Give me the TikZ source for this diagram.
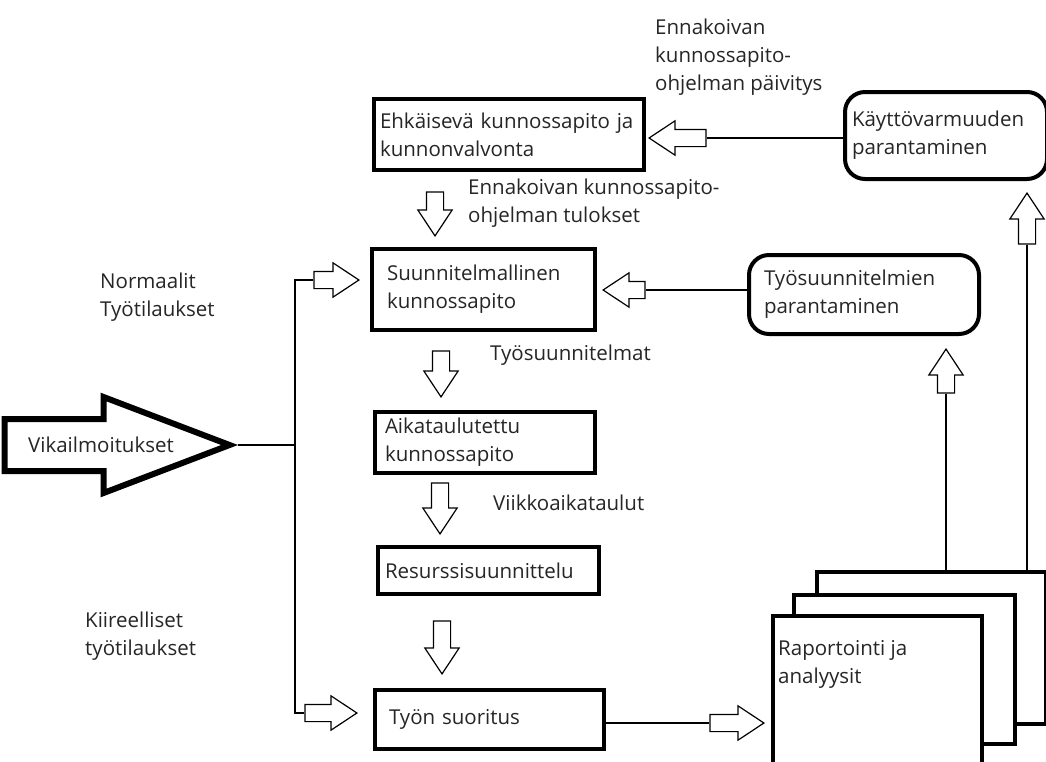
\documentclass[tikz,border=0pt]{standalone}
\usepackage{fontspec}
\setmainfont{Open Sans}
\usetikzlibrary{shapes.arrows}

\tikzset{
  box/.style={draw, line width=4pt, align=left, anchor=north west, inner ysep=0pt},
  roundbox/.style={box, rounded corners=20pt},
  flow/.style={draw, fill=white, single arrow, single arrow head extend=8.5pt,
    single arrow tip angle=67, inner xsep=0pt, inner ysep=8pt, line width=1.2pt, anchor=tip},
  lbl/.style={align=left, anchor=west, inner sep=0pt},
  link/.style={line width=1.2pt}
}

\begin{document}
\begin{tikzpicture}[x=1pt, y=-1pt, font=\fontsize{20.5pt}{28pt}\selectfont, text=black!85]
        \clip (0,0) rectangle (1046,761);
        \fill[white] (0,0) rectangle (1046,761);
        % main column
        \node[box, inner xsep=6pt, text width=258pt, minimum width=270pt, minimum height=71pt] (ehk) at (372,97)
            {Ehkäisevä kunnossapito ja\\kunnonvalvonta};
        \node[box, inner xsep=15pt, text width=193pt, minimum width=223pt, minimum height=81pt] (suunn) at (370,247)
            {Suunnitelmallinen\\kunnossapito};
        \node[box, inner xsep=10pt, text width=200pt, minimum width=220pt, minimum height=61pt] (aika) at (373,410)
            {Aikataulutettu\\kunnossapito};
        \node[box, inner xsep=7pt, text width=207pt, minimum width=221pt, minimum height=47pt] (res) at (376,545)
            {Resurssisuunnittelu};
        \node[box, inner xsep=14pt, text width=201pt, minimum width=229pt, minimum height=59pt] (tyon) at (373,688)
            {Työn suoritus};
        % improvement boxes
        \node[roundbox, inner xsep=7pt, text width=188pt, minimum width=202pt, minimum height=87pt] (kay) at (843,90)
            {Käyttövarmuuden\\parantaminen};
        \node[roundbox, inner xsep=15pt, text width=200pt, minimum width=230pt, minimum height=79pt] (tyo) at (747,253)
            {Työsuunnitelmien\\parantaminen};
        % report stack
        \node[box, fill=white, minimum width=229pt, minimum height=152pt] (rapback) at (815,570) {};
        \node[box, fill=white, minimum width=221pt, minimum height=149pt] (rapmid) at (792,593) {};
        \node[box, fill=white, minimum width=209pt, minimum height=200pt] (rap) at (771,614) {};
        \node[lbl] (raptext) at (778,664) {Raportointi ja\\analyysit};

        % incoming reports
        \node[flow, single arrow head extend=22pt, single arrow tip angle=41.7, inner ysep=23pt,
            minimum height=225pt, line width=6pt] (vik) at (238,445) {};
        \node[lbl] (viktext) at (28,445) {Vikailmoitukset};
        \coordinate (split) at (295,445);
        \node[flow, minimum height=45pt] (a10) at (360,280) {};
        \node[flow, minimum height=52pt] (a11) at (358,713) {};
        \draw[link] (vik.tip) -- (split);
        \draw[link] (a10.tail) -| (split) |- (a11.tail);

        % flow arrows
        \node[flow, rotate=-90, minimum height=44pt] (a2) at (435,237) {};
        \node[flow, rotate=-90, minimum height=46pt] (a4) at (441,398) {};
        \node[flow, rotate=-90, minimum height=51pt] (a5) at (440,535) {};
        \node[flow, rotate=-90, minimum height=53pt] (a6) at (442,675) {};
        \node[flow, minimum height=54pt] (a7) at (765,723) {};
        \draw[link] (a7.tail -| tyon.east) -- (a7.tail);

        % feedback arrows
        \node[flow, rotate=180, minimum height=57pt] (a1) at (648,138) {};
        \node[flow, rotate=180, minimum height=42pt] (a3) at (602,290) {};
        \node[flow, rotate=90, minimum height=44pt] (a8) at (946,348) {};
        \node[flow, rotate=90, minimum height=51pt] (a9) at (1027,192) {};
        \draw[link] (a1.tail) -- (a1.tail -| kay.west);
        \draw[link] (a3.tail) -- (a3.tail -| tyo.west);
        \draw[link] (a8.tail) -- (a8.tail |- rapback.north);
        \draw[link] (a9.tail) -- (a9.tail |- rapback.north);

        % labels
        \node[lbl] (updlbl) at (655,57) {Ennakoivan\\kunnossapito-\\ohjelman päivitys};
        \node[lbl] (tuloslbl) at (468,203) {Ennakoivan kunnossapito-\\ohjelman tulokset};
        \node[lbl] (tyolbl) at (490,355) {Työsuunnitelmat};
        \node[lbl] (viikkolbl) at (493,503) {Viikkoaikataulut};
        \node[lbl] (normlbl) at (100,297) {Normaalit\\Työtilaukset};
        \node[lbl] (kiirlbl) at (85,636) {Kiireelliset\\työtilaukset};
    \end{tikzpicture}
\end{document}
